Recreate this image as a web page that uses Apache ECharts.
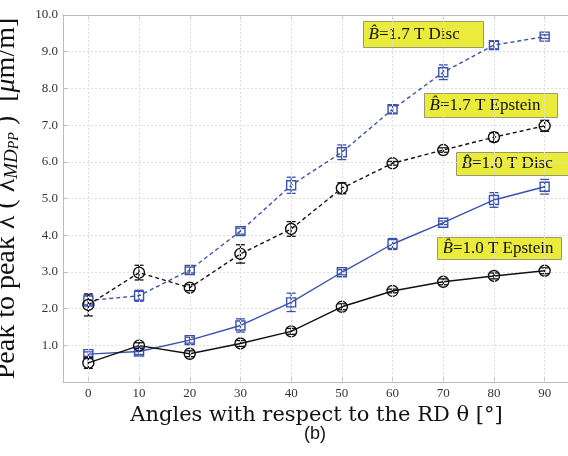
<!DOCTYPE html>
<html>
<head>
<meta charset="utf-8">
<script src="https://cdn.jsdelivr.net/npm/echarts@6/dist/echarts.min.js"></script>
<style>
  html, body { margin: 0; padding: 0; background: #fff; }
  #chart { width: 568px; height: 456px; }
</style>
</head>
<body>
<div id="chart"></div>
<script>
// 数据
var angles = [0, 10, 20, 30, 40, 50, 60, 70, 80, 90];
var xTicks = [0, 10, 20, 30, 40, 50, 60, 70, 80, 90];

var disc17 = [2.22, 2.35, 3.05, 4.11, 5.36, 6.26, 7.43, 8.44, 9.18, 9.41];
var disc17Err = [0.15, 0.15, 0.08, 0.08, 0.22, 0.2, 0.1, 0.2, 0.1, 0.05];

var epstein17 = [2.1, 2.98, 2.57, 3.49, 4.17, 5.28, 5.96, 6.32, 6.67, 6.98];
var epstein17Err = [0.3, 0.2, 0.08, 0.25, 0.2, 0.15, 0.05, 0.06, 0.12, 0.15];

var disc10 = [0.76, 0.83, 1.14, 1.54, 2.17, 2.99, 3.76, 4.34, 4.96, 5.32];
var disc10Err = [0.06, 0.08, 0.08, 0.18, 0.25, 0.07, 0.15, 0.05, 0.2, 0.2];

var epstein10 = [0.52, 0.99, 0.77, 1.05, 1.38, 2.05, 2.48, 2.73, 2.89, 3.03];
var epstein10Err = [0.15, 0.08, 0.08, 0.08, 0.08, 0.08, 0.05, 0.08, 0.08, 0.08];

var BLUE = '#3a52ad';
var BLACK = '#111111';
var SERIF = '"DejaVu Serif", "Liberation Serif", serif';
var SERIF2 = '"Liberation Serif", serif';

var chart = echarts.init(document.getElementById('chart'));

// 折线
function lineSeries(name, vals, color, dashed, symbol, size) {
    return {
        name: name,
        type: 'line',
        data: angles.map(function (a, i) { return [a, vals[i]]; }),
        symbol: symbol,
        symbolSize: size,
        itemStyle: { color: 'rgba(0,0,0,0)', borderColor: color, borderWidth: 1.4 },
        lineStyle: { color: color, width: 1.4, type: dashed ? [4, 3] : 'solid' },
        z: 2,
        silent: true
    };
}

// 误差棒
function errSeries(vals, errs, color) {
    return {
        type: 'custom',
        data: angles.map(function (a, i) { return [a, vals[i] - errs[i], vals[i] + errs[i]]; }),
        encode: { x: 0, y: [1, 2] },
        renderItem: function (params, api) {
            var lo = api.coord([api.value(0), api.value(1)]);
            var hi = api.coord([api.value(0), api.value(2)]);
            var w = 4.5;
            var st = { stroke: color, lineWidth: 1.3 };
            return {
                type: 'group',
                children: [
                    { type: 'line', shape: { x1: lo[0], y1: lo[1], x2: hi[0], y2: hi[1] }, style: st },
                    { type: 'line', shape: { x1: lo[0] - w, y1: lo[1], x2: lo[0] + w, y2: lo[1] }, style: st },
                    { type: 'line', shape: { x1: hi[0] - w, y1: hi[1], x2: hi[0] + w, y2: hi[1] }, style: st }
                ]
            };
        },
        z: 3,
        silent: true
    };
}

// 竖向网格线（只在 0,10,...,90）
var gridLines = {
    type: 'line',
    data: [],
    silent: true,
    markLine: {
        silent: true,
        symbol: 'none',
        label: { show: false },
        lineStyle: { color: '#ddd', type: [2, 2], width: 1 },
        data: xTicks.map(function (v) { return { xAxis: v }; })
    },
    z: 0
};

// 黄色标签
function tag(text, x, y, w, h) {
    return {
        type: 'group',
        left: x, top: y,
        children: [
            { type: 'rect', shape: { x: 0, y: 0, width: w, height: h },
              style: { fill: '#ebeb3b', stroke: '#9a9a70', lineWidth: 1 } },
            { type: 'text', x: 5, y: h / 2,
              style: { text: text, fontFamily: SERIF2, fontSize: 17, fill: '#111', verticalAlign: 'middle',
                       rich: { i: { fontStyle: 'italic', fontFamily: SERIF2, fontSize: 17 } } } }
        ]
    };
}

var option = {
    animation: false,
    backgroundColor: '#fff',
    grid: { left: 63, top: 15, right: -2, bottom: 74, outerBoundsMode: 'none', containLabel: false },
    xAxis: [{
        type: 'value',
        min: -5, max: 95,
        name: 'Angles with respect to the RD θ [°]',
        nameLocation: 'middle',
        nameGap: 8,
        nameTextStyle: { fontFamily: SERIF, fontSize: 21, color: '#111' },
        axisLine: { onZero: false, lineStyle: { color: '#bbb' } },
        axisTick: { inside: true, length: 4, lineStyle: { color: '#bbb' }, customValues: xTicks },
        axisLabel: { fontFamily: SERIF2, fontSize: 13, color: '#333', margin: 5, customValues: xTicks },
        splitLine: { show: false }
    }, {
        type: 'value',
        position: 'top',
        min: -5, max: 95,
        axisLine: { onZero: false, lineStyle: { color: '#bbb' } },
        axisTick: { inside: true, length: 4, lineStyle: { color: '#bbb' }, customValues: xTicks },
        axisLabel: { show: false },
        splitLine: { show: false }
    }],
    yAxis: {
        type: 'value',
        min: 0, max: 10, interval: 1,
        name: 'Peak to peak λ ( λ{sub|MD}{ss|PP} )  [{it|μ}m/m]',
        nameLocation: 'middle',
        nameGap: 42,
        nameTextStyle: {
            fontFamily: SERIF2, fontSize: 28, color: '#111',
            rich: {
                sub: { fontFamily: SERIF2, fontSize: 19, fontStyle: 'italic', color: '#111', verticalAlign: 'bottom', padding: [10, 0, 0, 0] },
                ss: { fontFamily: SERIF2, fontSize: 14, fontStyle: 'italic', color: '#111', verticalAlign: 'bottom', padding: [13, 0, 0, 0] },
                it: { fontFamily: SERIF2, fontSize: 28, fontStyle: 'italic', color: '#111' }
            }
        },
        axisLine: { show: true, onZero: false, lineStyle: { color: '#bbb' } },
        axisTick: { show: true, inside: true, length: 4, lineStyle: { color: '#bbb' } },
        axisLabel: {
            fontFamily: SERIF2, fontSize: 13, color: '#333', margin: 5, showMinLabel: false,
            formatter: function (v) { return v.toFixed(1); }
        },
        splitLine: { show: true, lineStyle: { color: '#ddd', type: [2, 2] } }
    },
    graphic: [
        tag('{i|B\u0302}=1.7 T Disc', 363, 21, 120, 26),
        tag('{i|B\u0302}=1.7 T Epstein', 424, 93, 133, 24),
        tag('{i|B\u0302}=1.0 T Disc', 456, 152, 112, 23),
        tag('{i|B\u0302}=1.0 T Epstein', 437, 237, 124, 22),
        { type: 'text', left: 304, top: 425,
          style: { text: '(b)', fontFamily: 'Liberation Sans, Arial, sans-serif', fontSize: 18, fill: '#111' } }
    ],
    series: [
        gridLines,
        lineSeries('1.7 T Disc', disc17, BLUE, true, 'rect', 9),
        lineSeries('1.7 T Epstein', epstein17, BLACK, true, 'circle', 11),
        lineSeries('1.0 T Disc', disc10, BLUE, false, 'rect', 9),
        lineSeries('1.0 T Epstein', epstein10, BLACK, false, 'circle', 11),
        errSeries(disc17, disc17Err, BLUE),
        errSeries(epstein17, epstein17Err, BLACK),
        errSeries(disc10, disc10Err, BLUE),
        errSeries(epstein10, epstein10Err, BLACK)
    ]
};

chart.setOption(option);
</script>
</body>
</html>
